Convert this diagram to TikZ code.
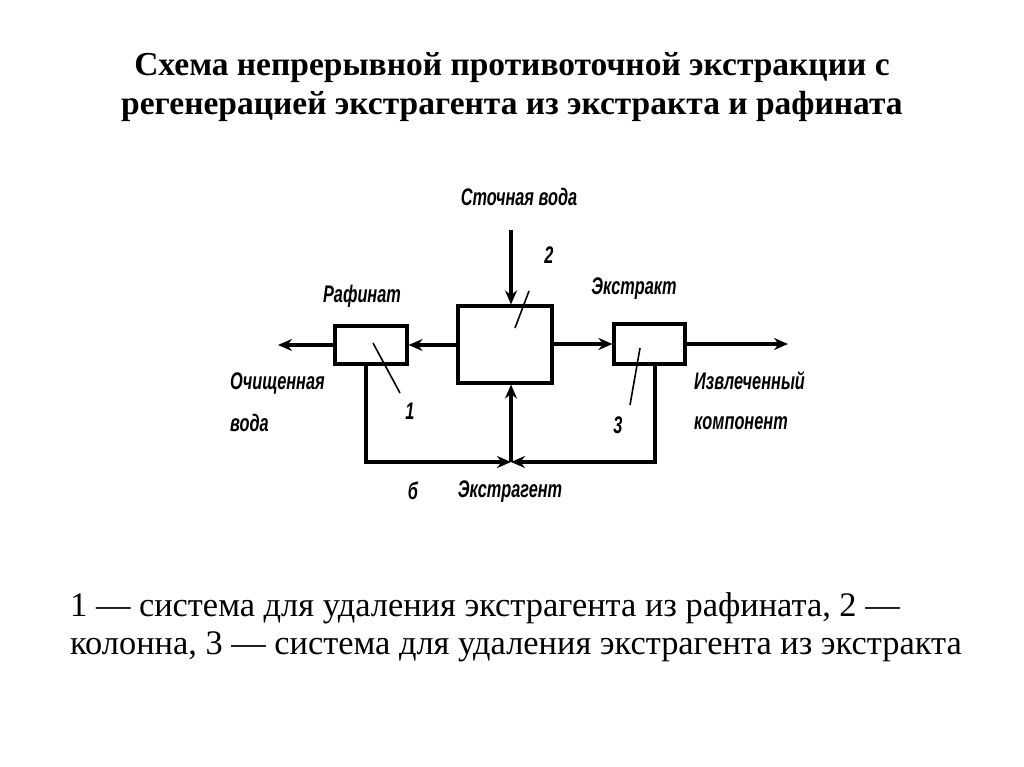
\documentclass[tikz,border=0pt]{standalone}
\usepackage{fontspec}
\setmainfont{Liberation Serif}
\newfontfamily\lblfont[FakeStretch=0.68]{Liberation Sans}
\usetikzlibrary{arrows.meta}
\tikzset{
  blk/.style={draw, line width=3.1pt, inner sep=0pt},
  flow/.style={line width=3.1pt},
  arr/.style={flow, -{Stealth[length=14pt,width=12pt]}},
  leader/.style={line width=1.6pt},
  lbl/.style={font=\lblfont\bfseries\itshape\fontsize{24}{26}\selectfont, inner sep=0pt},
  ttl/.style={font=\bfseries\fontsize{33.5}{39}\selectfont, align=center, inner sep=0pt},
  captext/.style={font=\fontsize{34.4}{38}\selectfont, align=left, inner sep=0pt, anchor=north west}
}
\begin{document}
\begin{tikzpicture}[x=1pt,y=-1pt]
\useasboundingbox (0,0) rectangle (1024,767);
\node[ttl] (title) at (512,87) {Схема непрерывной противоточной экстракции с\\регенерацией экстрагента из экстракта и рафината};

\node[blk, minimum width=94pt, minimum height=77pt] (b2) at (505,344.5) {};
\node[blk, minimum width=72pt, minimum height=38pt] (b1) at (371,345) {};
\node[blk, minimum width=71pt, minimum height=40pt] (b3) at (649.5,344) {};

\coordinate (outL) at (278,345);
\coordinate (outR) at (788,345);
\coordinate (inTop) at (511,230);
\coordinate (J) at (511,462);
\coordinate (c1) at (366,462);
\coordinate (c3) at (655,462);

\draw[arr] (b2.west |- b1.east) -- (b1.east);
\draw[arr] (b1.west) -- (b1.west -| outL);
\draw[arr] (b2.east |- b3.west) -- (b3.west);
\draw[arr] (b3.east) -- (b3.east -| outR);
\draw[arr] (inTop) -- (inTop |- b2.north);
\draw[arr] (c1 |- b1.south) -- (c1) -- (J);
\draw[arr] (c3 |- b3.south) -- (c3) -- (J);
\draw[arr] (J) -- (J |- b2.south);

\node[lbl] (tin) at (519,197) {Сточная вода};
\node[lbl] (traf) at (362,296) {Рафинат};
\node[lbl] (text) at (634,289) {Экстракт};
\node[lbl, anchor=west] (tclean) at (230,384) {Очищенная};
\node[lbl, anchor=west] (tvoda) at (230,423) {вода};
\node[lbl, anchor=west] (tizv) at (694,381) {Извлеченный};
\node[lbl, anchor=west] (tkomp) at (694,423) {компонент};
\node[lbl] (tb) at (413,491) {б};
\node[lbl] (tekg) at (510,492) {Экстрагент};

\node[lbl] (n2) at (549,255) {2};
\node[lbl] (n1) at (410,411) {1};
\node[lbl] (n3) at (618,425) {3};
\coordinate (l2a) at (529,291);
\coordinate (l2b) at (515,328);
\draw[leader] (l2a) -- (l2b);
\coordinate (l1a) at (373,343);
\coordinate (l1b) at (400,393);
\draw[leader] (l1a) -- (l1b);
\coordinate (l3a) at (640,348);
\coordinate (l3b) at (630,405);
\draw[leader] (l3a) -- (l3b);

\node[captext] (caption) at (70,592) {1 — система для удаления экстрагента из рафината, 2 —\\колонна, 3 — система для удаления экстрагента из экстракта};
\end{tikzpicture}
\end{document}
